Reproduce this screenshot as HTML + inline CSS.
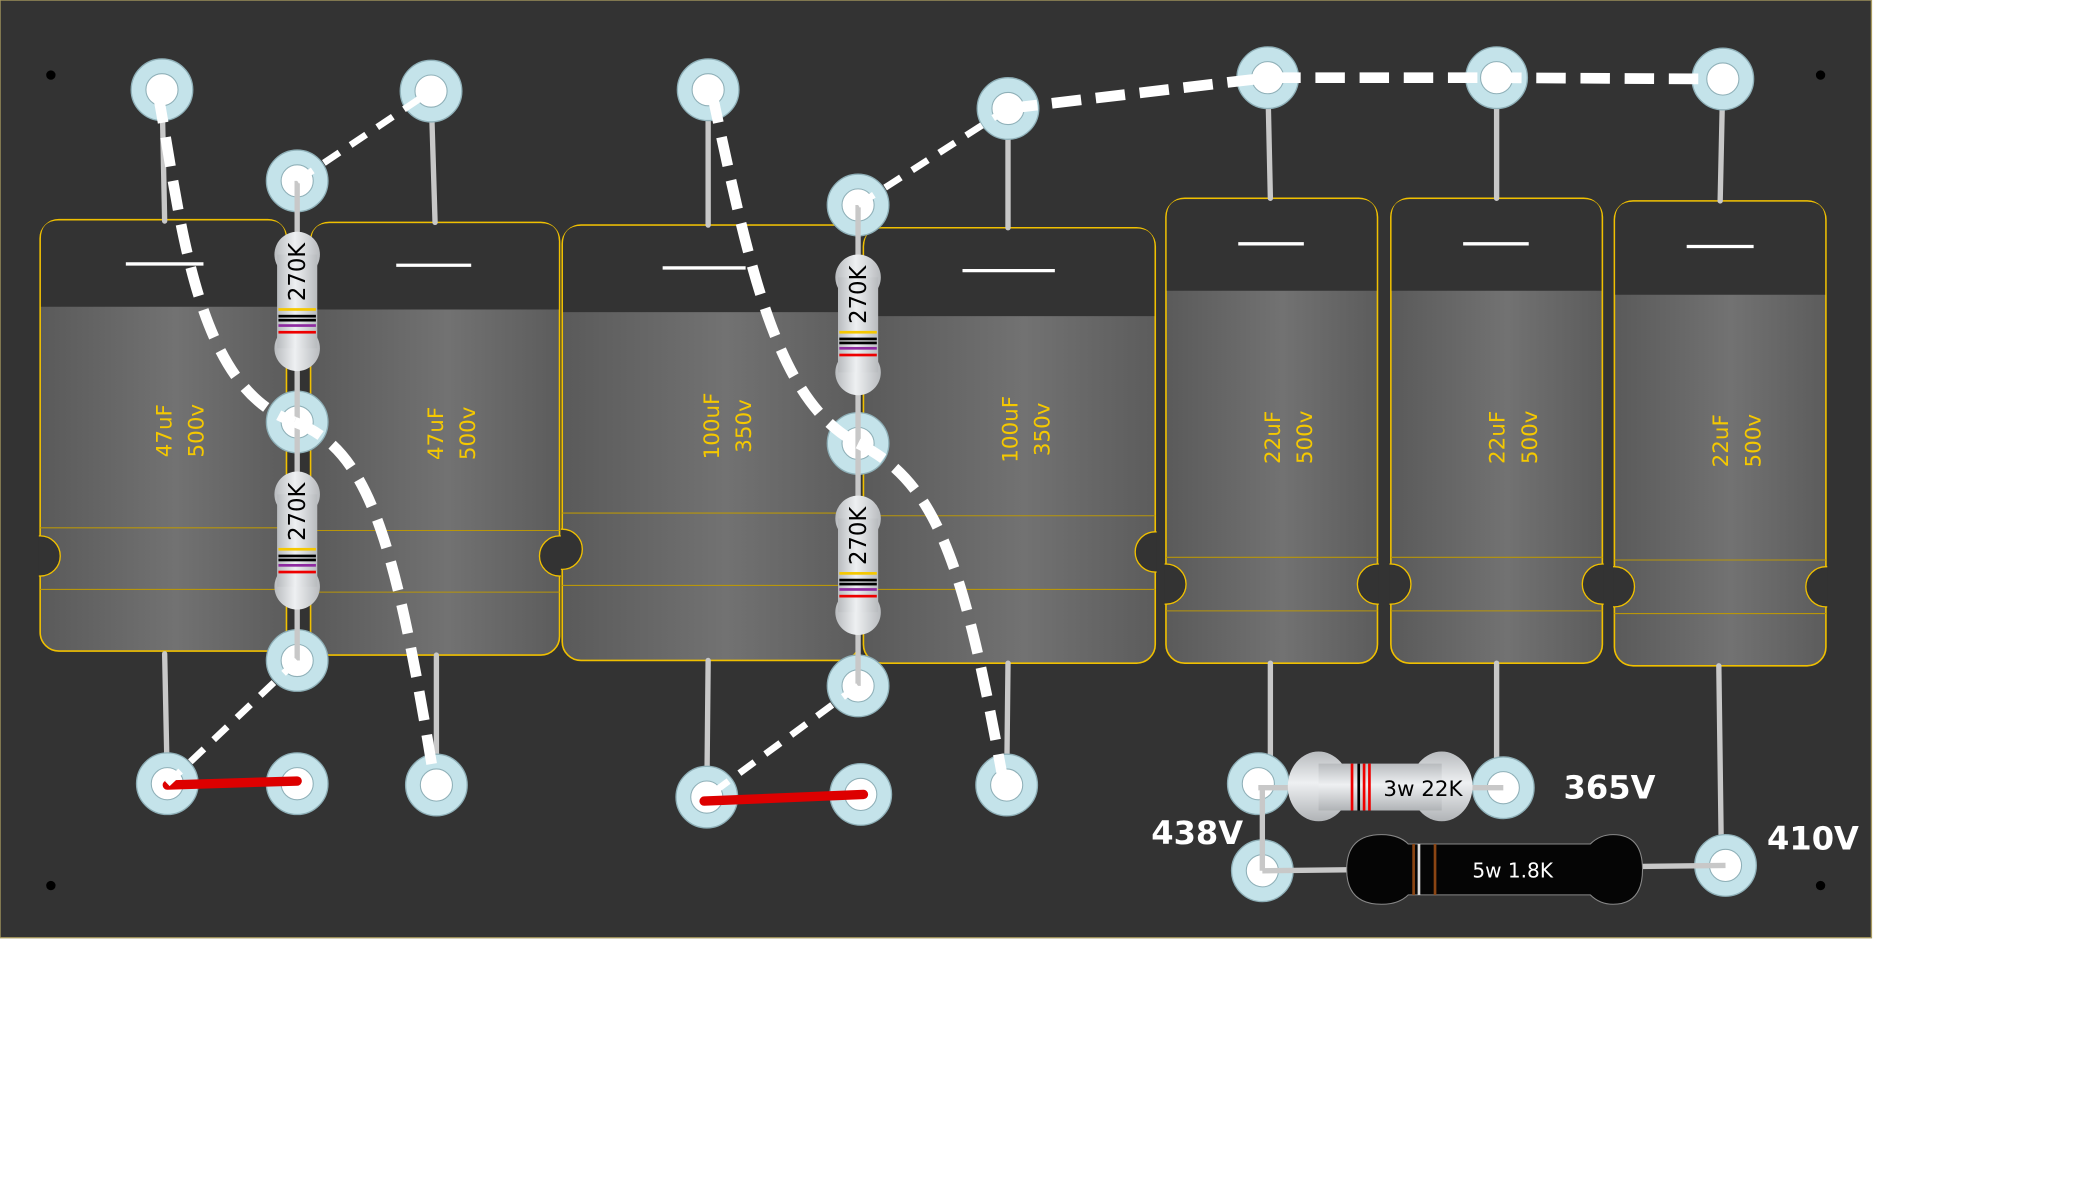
<!DOCTYPE html>
<html><head><meta charset="utf-8"><style>
html,body{margin:0;padding:0;background:#fff;}
svg{display:block;font-family:"DejaVu Sans","Liberation Sans",sans-serif;}
</style></head><body>
<svg width="2099" height="1199" viewBox="0 0 1568 895" preserveAspectRatio="none" xmlns="http://www.w3.org/2000/svg">
<defs>
<linearGradient id="capg" x1="0" x2="1" y1="0" y2="0"><stop offset="0" stop-color="#5a5a5a"/><stop offset="0.55" stop-color="#727272"/><stop offset="1" stop-color="#5c5c5c"/></linearGradient>
<linearGradient id="resg" x1="0" x2="1" y1="0" y2="0"><stop offset="0" stop-color="#b8bbbe"/><stop offset="0.45" stop-color="#eef0f2"/><stop offset="1" stop-color="#b8bbbe"/></linearGradient>
<linearGradient id="resh" x1="0" x2="0" y1="0" y2="1"><stop offset="0" stop-color="#b8bbbe"/><stop offset="0.45" stop-color="#eef0f2"/><stop offset="1" stop-color="#b0b3b6"/></linearGradient>
</defs>
<rect x="0" y="0" width="1398" height="700" fill="#333" stroke="#a89a60" stroke-width="1"/>
<g fill="#000">
<circle cx="38" cy="56" r="3.5"/><circle cx="1360" cy="56" r="3.5"/><circle cx="38" cy="661" r="3.5"/><circle cx="1360" cy="661" r="3.5"/>
</g>
<g id="caps"></g>
<g id="leads" stroke="#c8c8c8" stroke-width="4" stroke-linecap="round" fill="none">
<line x1="121" y1="67" x2="123" y2="165"/><line x1="322" y1="68" x2="325" y2="166"/>
<line x1="529" y1="67" x2="529" y2="168"/><line x1="753" y1="81" x2="753" y2="170"/>
<line x1="947" y1="58" x2="949" y2="148"/><line x1="1118" y1="58" x2="1118" y2="148"/><line x1="1287" y1="59" x2="1285" y2="150"/>
<line x1="123" y1="488" x2="125" y2="585"/><line x1="326" y1="489" x2="326" y2="586"/>
<line x1="529" y1="493" x2="528" y2="595"/><line x1="753" y1="495" x2="752" y2="586"/>
<line x1="949" y1="495" x2="949" y2="587"/><line x1="1118" y1="495" x2="1118" y2="588"/><line x1="1284" y1="497" x2="1286" y2="646"/>
</g>
<g id="pads"></g>
<g stroke="#c8c8c8" stroke-width="4">
<line x1="222" y1="135" x2="222" y2="493"/><line x1="641" y1="153" x2="641" y2="512"/>
</g>
<g id="vres"></g>
<g stroke="#d00" stroke-width="7" stroke-linecap="round">
<line x1="125" y1="586" x2="222" y2="583"/><line x1="526" y1="598" x2="645" y2="593"/>
</g>
<g fill="none" stroke="#fff" stroke-width="8" stroke-dasharray="22 11">
<path d="M118 70 C 135 160, 145 290, 220 315"/>
<path d="M220 315 C 275 335, 295 400, 325 586"/>
<path d="M532 70 C 560 200, 580 300, 641 331"/>
<path d="M641 331 C 700 360, 720 420, 750 586"/>
<path d="M753 81 L 947 58 L 1118 58 L 1287 59"/>
</g>
<g fill="none" stroke="#fff" stroke-width="5" stroke-dasharray="14 10">
<line x1="222" y1="135" x2="322" y2="68"/><line x1="222" y1="493" x2="125" y2="585"/>
<line x1="641" y1="153" x2="753" y2="81"/><line x1="641" y1="512" x2="528" y2="595"/>
</g>
<g stroke="#c8c8c8" stroke-width="4">
<line x1="940" y1="588" x2="1123" y2="588"/><line x1="943" y1="587" x2="943" y2="650"/><line x1="943" y1="650" x2="1289" y2="646"/>
</g>
<g>
<ellipse cx="985" cy="587" rx="23" ry="26" fill="url(#resh)"/>
<ellipse cx="1077" cy="587" rx="23" ry="26" fill="url(#resh)"/>
<rect x="985" y="570" width="92" height="35" fill="url(#resh)"/>
<rect x="1009" y="570" width="2" height="35" fill="#e00"/><rect x="1014" y="570" width="2" height="35" fill="#000"/><rect x="1018" y="570" width="2" height="35" fill="#e00"/><rect x="1022" y="570" width="2" height="35" fill="#e00"/>
<text x="1063" y="594" font-size="16" text-anchor="middle" fill="#000">3w 22K</text>
</g>
<g>
<path d="M1032 623 Q1045 623 1052 630 L1188 630 Q1195 623 1205 623 Q1227 623 1227 649 Q1227 675 1205 675 Q1195 675 1188 668 L1052 668 Q1045 675 1032 675 Q1006 675 1006 649 Q1006 623 1032 623 Z" fill="#050505" stroke="#888" stroke-width="0.8"/>
<rect x="1055" y="630" width="2" height="38" fill="#8b4513"/><rect x="1059" y="630" width="2" height="38" fill="#ddd"/><rect x="1071" y="630" width="2" height="38" fill="#8b4513"/>
<text x="1130" y="655" font-size="15" text-anchor="middle" fill="#fff">5w 1.8K</text>
</g>
<g fill="#fff" font-weight="bold" font-size="24">
<text x="1168" y="596">365V</text>
<text x="860" y="630">438V</text>
<text x="1320" y="634">410V</text>
</g>
<script>
const NS='http://www.w3.org/2000/svg';
function mk(tag,attrs,parent){const e=document.createElementNS(NS,tag);for(const k in attrs)e.setAttribute(k,attrs[k]);parent.appendChild(e);return e;}
const caps=[
[30,214,164,486,229,394,440,415,1,0,94,152,197,'47uF','500v'],
[232,418,166,489,231,396,442,415,0,1,296,352,198,'47uF','500v'],
[420,642,168,493,233,383,437,410,1,0,495,557,200,'100uF','350v'],
[645,863,170,495,236,385,440,412,0,1,719,788,202,'100uF','350v'],
[871,1029,148,495,217,416,456,436,1,1,925,974,182,'22uF','500v'],
[1039,1197,148,495,217,416,456,436,1,1,1093,1142,182,'22uF','500v'],
[1206,1364,150,497,220,418,458,438,1,1,1260,1310,184,'22uF','500v']];
const cg=document.getElementById('caps');
const defs=document.querySelector('defs');
caps.forEach((c,i)=>{
 const g=mk('g',{},cg);
 
 
 const [x1,x2,y1,y2,de,b1,b2,ny,nl,nr,sx1,sx2,sy,l1,l2]=c;
 const cp=mk('clipPath',{id:'cp'+i},defs);
 mk('rect',{x:x1-1,y:y1,width:x2-x1+2,height:y2-y1,rx:14},cp);
 mk('rect',{x:x1,y:y1,width:x2-x1,height:y2-y1,rx:14,fill:'url(#capg)',stroke:'#f0c000','stroke-width':1.2},g);
 mk('path',{d:`M${x1+0.6} ${de} L${x1+0.6} ${y1+14} Q${x1+0.6} ${y1+0.6} ${x1+14} ${y1+0.6} L${x2-14} ${y1+0.6} Q${x2-0.6} ${y1+0.6} ${x2-0.6} ${y1+14} L${x2-0.6} ${de} Z`,fill:'#333'},g);
 mk('line',{x1:x1,x2:x2,y1:b1,y2:b1,stroke:'#b8960a','stroke-width':0.8},g);
 mk('line',{x1:x1,x2:x2,y1:b2,y2:b2,stroke:'#b8960a','stroke-width':0.8},g);
 const ng=mk('g',{'clip-path':`url(#cp${i})`},g);
 if(nl)mk('circle',{cx:x1,cy:ny,r:15,fill:'#333',stroke:'#f0c000','stroke-width':1},ng);
 if(nr)mk('circle',{cx:x2,cy:ny,r:15,fill:'#333',stroke:'#f0c000','stroke-width':1},ng);
 mk('line',{x1:sx1,x2:sx2,y1:sy,y2:sy,stroke:'#fff','stroke-width':2.5},g);
 const cx=(x1+x2)/2, cy=(b1+de)/2+10;
 const t=mk('text',{transform:`translate(${cx},${cy}) rotate(-90)`,'font-size':16,fill:'#f5c800','text-anchor':'middle'},g);
 const a=mk('tspan',{x:0,y:6},t);a.textContent=l1;
 const b=mk('tspan',{x:0,y:30},t);b.textContent=l2;
});
const pads=[[121,67],[322,68],[222,135],[529,67],[753,81],[641,153],[947,58],[1118,58],[1287,59],[222,315],[641,331],[222,493],[641,512],[125,585],[222,585],[326,586],[528,595],[643,593],[752,586],[940,585],[1123,588],[943,650],[1289,646]];
const pg=document.getElementById('pads');
pads.forEach((p,i)=>{
 const g=mk('g',{},pg);
 
 
 mk('circle',{cx:p[0],cy:p[1],r:23,fill:'#c4e3ea',stroke:'#8fb0b8','stroke-width':1},g);
 mk('circle',{cx:p[0],cy:p[1],r:12,fill:'#fff',stroke:'#8fb0b8','stroke-width':0.8},g);
});
const vres=[[222,173,277],[222,352,455],[641,190,295],[641,370,474]];
const vg=document.getElementById('vres');
vres.forEach((r,i)=>{
 const g=mk('g',{},vg);
 
 
 const [x,t,b]=r;
 mk('circle',{cx:x,cy:t+17,r:17,fill:'url(#resg)'},g);
 mk('circle',{cx:x,cy:b-17,r:17,fill:'url(#resg)'},g);
 mk('rect',{x:x-15,y:t+17,width:30,height:b-t-34,fill:'url(#resg)'},g);
 const bands=[[57,'#f5c800'],[62,'#000'],[65,'#000'],[69,'#8e2aa0'],[74,'#e00']];
 bands.forEach(bd=>mk('rect',{x:x-14,y:t+bd[0],width:28,height:2,fill:bd[1]},g));
 const tx=mk('text',{transform:`translate(${x+6},${t+30}) rotate(-90)`,'font-size':17,fill:'#000','text-anchor':'middle'},g);
 tx.textContent='270K';
});
</script>
</svg>
</body></html>
